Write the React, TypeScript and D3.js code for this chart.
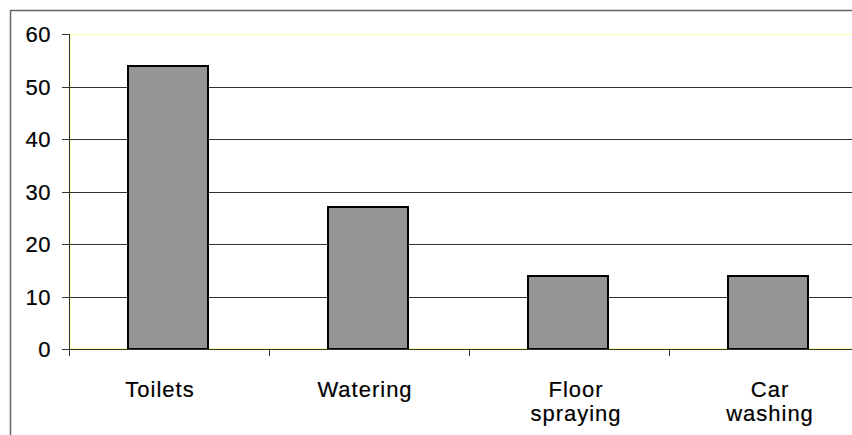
import React from "react";
import * as d3 from "d3";

const categories: string[][] = [["Toilets"], ["Watering"], ["Floor", "spraying"], ["Car", "washing"]];
const values: number[] = [54, 27, 14, 14];
const yTicks: number[] = [0, 10, 20, 30, 40, 50, 60];

export default function App() {
  const W = 852, H = 435;
  const left = 69, right = 869, top = 34, bottom = 349;
  const keys = categories.map((c) => c.join(" "));
  const x = d3.scaleBand<string>().domain(keys).range([left, right]).paddingInner(0.6).paddingOuter(0.3);
  const step = x.step();
  const y = d3.scaleLinear().domain([0, 60]).range([bottom, top]);
  const font = "'Liberation Sans', Arial, sans-serif";
  const labelShift = [-9, -4, 7, 1];
  return (
    <svg width={W} height={H} style={{ position: "absolute", left: 0, top: 0, background: "#fff" }}>
      <rect x={10.5} y={10.5} width={1000} height={1000} fill="#fff" stroke="#666" strokeWidth={1.5} />
      <rect x={left + 1.5} y={y(60) + 0.5} width={1000} height={bottom - top - 1} fill="none" stroke="#ffffa8" strokeWidth={1} />
      {yTicks.filter((t) => t > 0 && t < 60).map((t) => (
        <line key={t} x1={left} x2={W} y1={Math.round(y(t)) + 0.5} y2={Math.round(y(t)) + 0.5} stroke="#333" strokeWidth={1} />
      ))}
      {values.map((v, i) => (
        <rect key={i} x={Math.round(x(keys[i])!) - 1} y={Math.round(y(v))} width={x.bandwidth()} height={bottom - Math.round(y(v))}
          fill="#969696" stroke="#000" strokeWidth={2} />
      ))}
      <line x1={left + 0.5} x2={left + 0.5} y1={top} y2={bottom + 1} stroke="#333" strokeWidth={1} />
      {yTicks.map((t) => (
        <g key={t}>
          <line x1={left - 7} x2={left} y1={Math.round(y(t)) + 0.5} y2={Math.round(y(t)) + 0.5} stroke="#333" strokeWidth={1} />
          <text x={51} y={Math.round(y(t)) + 7.5} textAnchor="end" fontFamily={font} fontSize={22} letterSpacing={0.5} fill="#000" stroke="#000" strokeWidth={0.2}>{t}</text>
        </g>
      ))}
      <line x1={left} x2={W} y1={bottom + 0.5} y2={bottom + 0.5} stroke="#333" strokeWidth={1} />
      {keys.map((k, i) => (
        <line key={k} x1={left + i * step + 0.5} x2={left + i * step + 0.5} y1={bottom} y2={bottom + 7} stroke="#333" strokeWidth={1} />
      ))}
      {categories.map((lines, i) => {
        const cx = x(keys[i])! + x.bandwidth() / 2 + labelShift[i];
        return (
          <text key={i} x={cx} y={397} textAnchor="middle" fontFamily={font} fontSize={22} letterSpacing={1} fill="#000" stroke="#000" strokeWidth={0.2}>
            {lines.map((l, j) => (
              <tspan key={j} x={cx} dy={j === 0 ? 0 : 23.5}>{l}</tspan>
            ))}
          </text>
        );
      })}
    </svg>
  );
}
